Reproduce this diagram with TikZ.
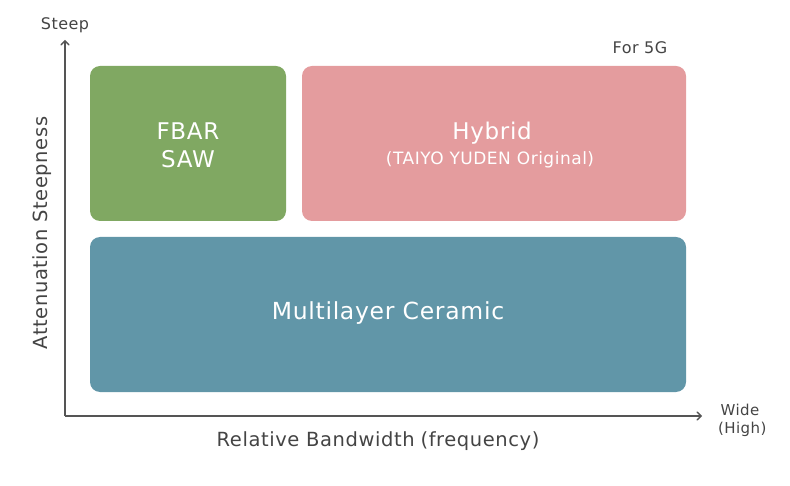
\documentclass[tikz,border=0pt]{standalone}
\usepackage{fontspec}
\setmainfont[LetterSpace=3]{DejaVu Sans}
\usepackage{tikz}
\usetikzlibrary{arrows}
\definecolor{fgreen}{RGB}{128,168,98}
\definecolor{hpink}{RGB}{228,156,158}
\definecolor{cblue}{RGB}{97,150,168}
\definecolor{axgrey}{RGB}{85,85,85}
\newcommand{\fs}[1]{\fontsize{#1}{#1}\selectfont}
\newcommand{\wpar}[1]{\hspace{0.3em}(#1)\hspace{0.3em}}

\begin{document}
\begin{tikzpicture}[x=1pt,y=-1pt,>=angle 90,semithick]
      \tikzstyle{block}=[rounded corners=10pt,draw=none]
      \tikzstyle{inlabel}=[text=white,align=center,inner sep=0pt]
      \tikzstyle{axlabel}=[text=axgrey!80!black,align=center,inner sep=0pt]
      \tikzstyle{axis}=[->,axgrey,line width=1.4pt]
      \useasboundingbox (0,0) rectangle (790,486);
      % blocks
      \fill[block,fgreen] (90,66) rectangle (286,221);
      \fill[block,hpink] (302,66) rectangle (686,221);
      \fill[block,cblue] (90,237) rectangle (686,392);
      \node [inlabel,font=\fs{23},align=center] (fbar) at (188,145) {FBAR\\[5pt]SAW};
      \node [inlabel,font=\fs{23}] (hybrid) at (492,133) {Hybrid};
      \node [inlabel,font=\fs{17}] (orig) at (490,160) {(TAIYO YUDEN Original)};
      \node [inlabel,font=\fs{23.5}] (mlc) at (388,313) {Multilayer Ceramic};
      % axes
      \coordinate (o) at (65,416);
      \coordinate (ytop) at (65,40);
      \coordinate (xend) at (702,416);
      \draw [axis] (o) -- (ytop);
      \draw [axis] (o) -- (xend);
      \node [axlabel,font=\fs{16}] (steep) at (65,25) {Steep};
      \node [axlabel,font=\fs{16}] (for5g) at (640,48) {For 5G};
      \node [axlabel,font=\fs{15},align=center] (wide) at (740,420) {Wide\\[3pt]\wpar{High}};
      \node [axlabel,font=\fs{19.5}] (xlab) at (381,441) {Relative Bandwidth\wpar{frequency}};
      \node [axlabel,font=\fs{19.5},rotate=90] (ylab) at (42,233) {Attenuation Steepness};
  \end{tikzpicture}
\end{document}
